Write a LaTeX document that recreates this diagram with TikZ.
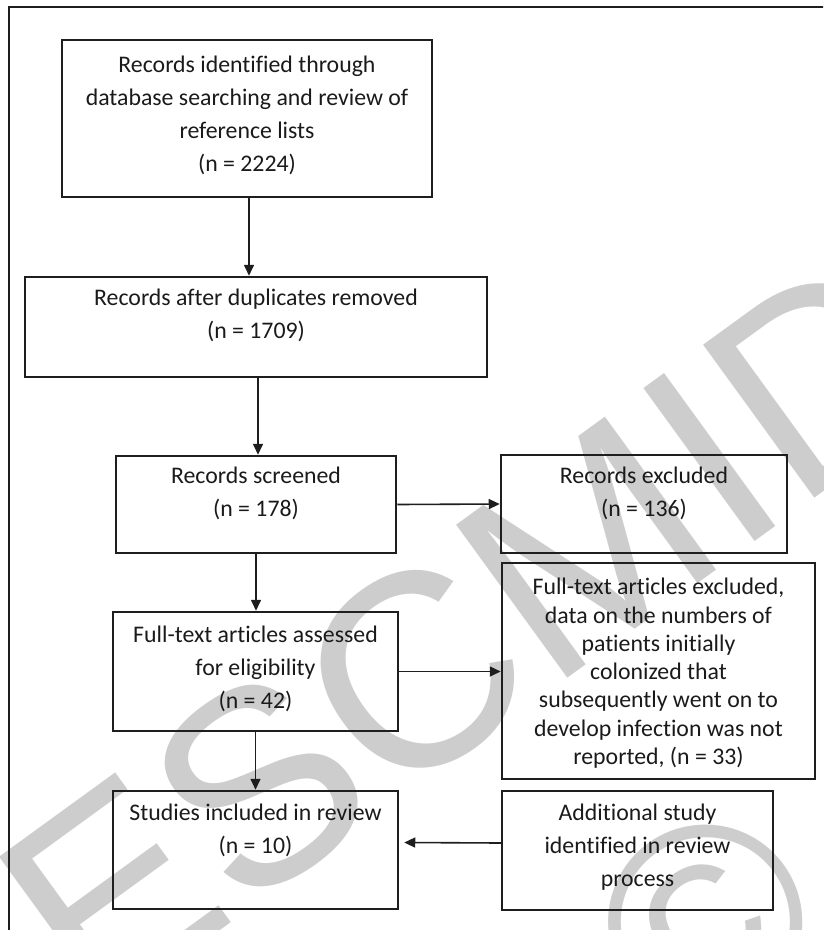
\documentclass[tikz,border=0pt]{standalone}
\usepackage{fontspec}
\setmainfont{Carlito}[Ligatures=NoCommon]
\newfontfamily\wmfont{Liberation Sans}
\usetikzlibrary{arrows.meta}
\definecolor{linec}{HTML}{1E1E1E}
\definecolor{txtc}{HTML}{1A1A1A}
\definecolor{wmc}{HTML}{CDCDCD}
\begin{document}
\begin{tikzpicture}[x=1pt,y=-1pt,
  box/.style={draw=linec, line width=2.5pt, inner sep=0pt},
  txt/.style={font={\fontsize{23.8pt}{33pt}\selectfont}, align=center, inner sep=0pt, text=txtc},
  arr/.style={draw=linec, line width=1.6pt, -{Triangle[length=11pt,width=10pt]}},
  wm/.style={text=wmc, inner sep=0pt, font={\wmfont\fontsize{275pt}{275pt}\selectfont}},
  frame/.style={draw=linec, line width=2.5pt}]
\useasboundingbox (0,0) rectangle (823,930);
\clip (0,0) rectangle (823,930);
% watermark
\node[wm, rotate=36, anchor=base west] (wmtext) at (92,1024) {ESCMID};
\node[wm, rotate=36] (wmcopy) at (706,922) {©};
% outer frame
\draw[frame] (9,7) rectangle (860,960);
% boxes
\node[box, minimum width=370pt, minimum height=157pt] (b1) at (247,118.5) {};
\node[box, minimum width=462pt, minimum height=100pt] (b2) at (256,327) {};
\node[box, minimum width=280pt, minimum height=97pt] (b3) at (256,504.5) {};
\node[box, minimum width=286pt, minimum height=98pt] (b4) at (644,504) {};
\node[box, minimum width=285pt, minimum height=119pt] (b5) at (255.5,671.5) {};
\node[box, minimum width=313pt, minimum height=216pt] (b6) at (658.5,671) {};
\node[box, minimum width=285pt, minimum height=118pt] (b7) at (255.5,850) {};
\node[box, minimum width=271pt, minimum height=119pt] (b8) at (637.5,850.5) {};
% texts
\node[txt] (t1) at (247,115.8) {Records identified through\\database searching and review of\\reference lists\\(n = 2224)};
\node[txt] (t2) at (256,315) {Records after duplicates removed\\(n = 1709)};
\node[txt] (t3) at (256,493.5) {Records screened\\(n = 178)};
\node[txt] (t4) at (644,493.3) {Records excluded\\(n = 136)};
\node[txt] (t5) at (255.5,668.7) {Full-text articles assessed\\for eligibility\\(n = 42)};
\node[txt, font={\fontsize{23.8pt}{28.3pt}\selectfont}] (t6) at (658.5,673.3) {Full-text articles excluded,\\data on the numbers of\\patients initially\\colonized that\\subsequently went on to\\develop infection was not\\reported, (n = 33)};
\node[txt] (t7) at (255.5,830) {Studies included in review\\(n = 10)};
\node[txt] (t8) at (637.5,846.7) {Additional study\\identified in review\\process};
% connectors
\draw[arr] ([xshift=2pt]b1.south) -- ([xshift=2pt]b1.south |- b2.north);
\draw[arr] ([xshift=2pt]b2.south) -- ([xshift=2pt]b2.south |- b3.north);
\draw[arr] (b3.east) -- (b4.west);
\draw[arr] (b3.south) -- (b3.south |- b5.north);
\draw[arr] (b5.east) -- (b5.east -| b6.west);
\draw[arr] (b5.south) -- (b5.south |- b7.north);
\draw[arr] ([yshift=7.5pt]b8.west) -- ([yshift=7.5pt,xshift=5pt]b7.east);
\end{tikzpicture}
\end{document}
